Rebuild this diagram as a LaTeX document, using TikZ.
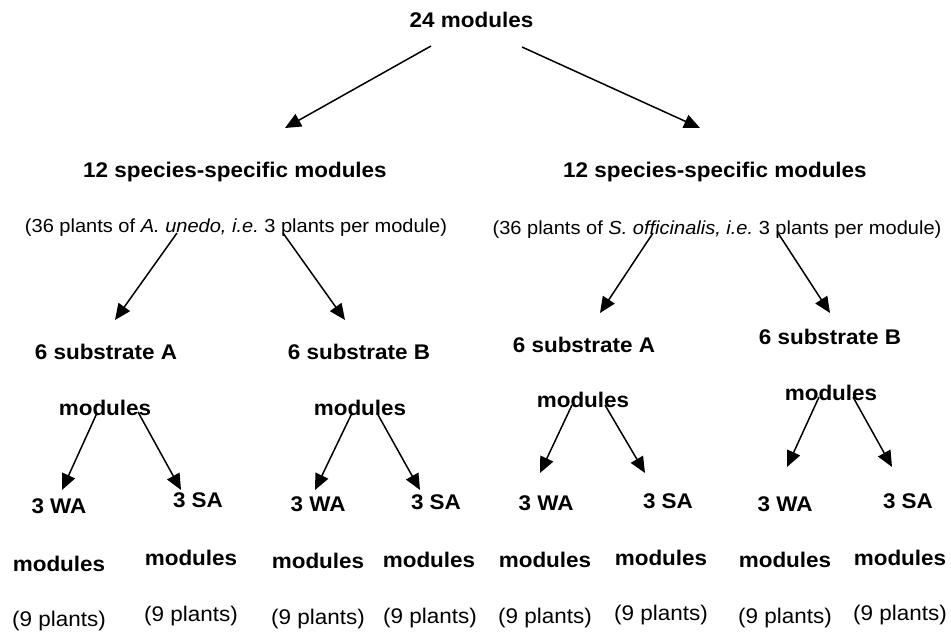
\documentclass[tikz,border=0pt]{standalone}
\usepackage{fontspec}
\setmainfont{Liberation Sans}[FakeStretch=1.06]
\usetikzlibrary{arrows.meta}
\begin{document}
\begin{tikzpicture}[x=1pt,y=-1pt,
  hd/.style={anchor=base,inner sep=0pt,font=\fontsize{21.2}{24}\selectfont\bfseries},
  pl/.style={anchor=base,inner sep=0pt,font=\fontsize{21.2}{24}\selectfont},
  sp/.style={anchor=base,inner sep=0pt,font=\fontsize{18.9}{22}\selectfont},
  arr/.style={line width=1.5pt,-{Triangle[length=16pt,width=14pt]}}]
\useasboundingbox[fill=white] (0,0) rectangle (951,635);
% level 0
\node[hd] (top) at (471.5,27) {24 modules};
% level 1
\node[hd] (ssL) at (235,177) {12 species-specific modules};
\node[hd] (ssR) at (715,177) {12 species-specific modules};
\node[sp] (plL) at (236,232) {(36 plants of \textit{A. unedo, i.e.}\ 3 plants per module)};
\node[sp] (plR) at (717,234) {(36 plants of \textit{S. officinalis, i.e.}\ 3 plants per module)};
% level 2
\node[hd] (sLA) at (106,359) {6 substrate A};
\node[hd] (mLA) at (105,415) {modules};
\node[hd] (sLB) at (359,359) {6 substrate B};
\node[hd] (mLB) at (360,415) {modules};
\node[hd] (sRA) at (584,352) {6 substrate A};
\node[hd] (mRA) at (583,407) {modules};
\node[hd] (sRB) at (830,344) {6 substrate B};
\node[hd] (mRB) at (831,400) {modules};
% level 3
\node[hd] (w1) at (59,513) {3 WA};
\node[hd] (m1) at (59,571) {modules};
\node[pl] (p1) at (59,626) {(9 plants)};
\node[hd] (s2) at (198,507) {3 SA};
\node[hd] (m2) at (191,565) {modules};
\node[pl] (p2) at (191,621) {(9 plants)};
\node[hd] (w3) at (318,511) {3 WA};
\node[hd] (m3) at (318,568) {modules};
\node[pl] (p3) at (318,624) {(9 plants)};
\node[hd] (s4) at (436,509) {3 SA};
\node[hd] (m4) at (429,567) {modules};
\node[pl] (p4) at (430,623) {(9 plants)};
\node[hd] (w5) at (546,510) {3 WA};
\node[hd] (m5) at (545,567) {modules};
\node[pl] (p5) at (545,623) {(9 plants)};
\node[hd] (s6) at (668,508) {3 SA};
\node[hd] (m6) at (661,565) {modules};
\node[pl] (p6) at (661,620) {(9 plants)};
\node[hd] (w7) at (785,511) {3 WA};
\node[hd] (m7) at (785,567) {modules};
\node[pl] (p7) at (785,623) {(9 plants)};
\node[hd] (s8) at (908,508) {3 SA};
\node[hd] (m8) at (900,565) {modules};
\node[pl] (p8) at (900,620) {(9 plants)};
% connector ends
\coordinate (a1s) at (431,46);  \coordinate (a1e) at (285,128);
\coordinate (a2s) at (522,47);  \coordinate (a2e) at (700,128);
\coordinate (b1s) at (177,233); \coordinate (b1e) at (115,320);
\coordinate (b2s) at (283,233); \coordinate (b2e) at (345,320);
\coordinate (b3s) at (653,233); \coordinate (b3e) at (600,313);
\coordinate (b4s) at (778,233); \coordinate (b4e) at (830,313);
\coordinate (c1s) at (97,413);  \coordinate (c1e) at (62,490);
\coordinate (c2s) at (138,412); \coordinate (c2e) at (181,490);
\coordinate (c3s) at (352,413); \coordinate (c3e) at (315,490);
\coordinate (c4s) at (377,413); \coordinate (c4e) at (420,490);
\coordinate (c5s) at (572,405); \coordinate (c5e) at (540,473);
\coordinate (c6s) at (605,405); \coordinate (c6e) at (645,473);
\coordinate (c7s) at (819,397); \coordinate (c7e) at (787,467);
\coordinate (c8s) at (853,397); \coordinate (c8e) at (892,467);
\foreach \a in {a1,a2,b1,b2,b3,b4,c1,c2,c3,c4,c5,c6,c7,c8}
  \draw[arr] (\a s) -- (\a e);
\end{tikzpicture}
\end{document}
